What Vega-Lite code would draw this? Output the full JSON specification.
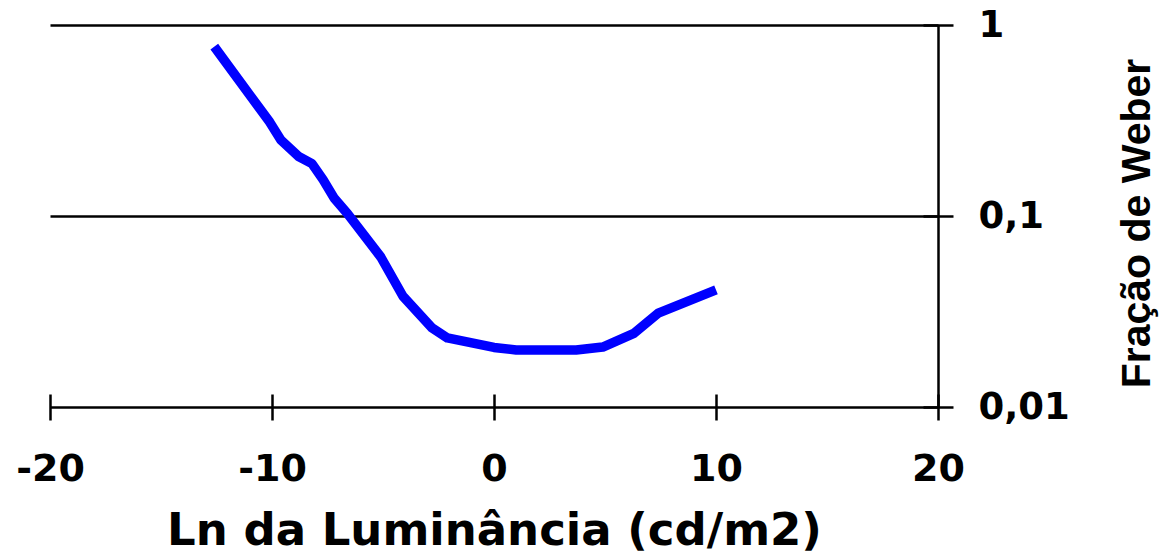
{
  "$schema": "https://vega.github.io/schema/vega-lite/v6.json",
  "autosize": "none",
  "width": 888,
  "height": 382,
  "padding": {"left": 50, "top": 25, "right": 227, "bottom": 148},
  "background": "white",
  "config": {"view": {"stroke": null}},
  "data": {"values": [
    {"lnL": -12.6, "weber": 0.77},
    {"lnL": -10.1, "weber": 0.31},
    {"lnL": -9.6, "weber": 0.25},
    {"lnL": -8.8, "weber": 0.205},
    {"lnL": -8.2, "weber": 0.188},
    {"lnL": -7.7, "weber": 0.155},
    {"lnL": -7.2, "weber": 0.124},
    {"lnL": -6.6, "weber": 0.103},
    {"lnL": -5.1, "weber": 0.061},
    {"lnL": -4.1, "weber": 0.038},
    {"lnL": -2.8, "weber": 0.026},
    {"lnL": -2.1, "weber": 0.023},
    {"lnL": 0, "weber": 0.0205},
    {"lnL": 1.0, "weber": 0.0199},
    {"lnL": 3.7, "weber": 0.0199},
    {"lnL": 4.9, "weber": 0.0206},
    {"lnL": 6.3, "weber": 0.0243},
    {"lnL": 7.4, "weber": 0.031},
    {"lnL": 10.0, "weber": 0.041}
  ]},
  "mark": {"type": "line", "color": "#0000ff", "strokeWidth": 9.5, "strokeCap": "butt", "strokeJoin": "round", "clip": false},
  "encoding": {
    "x": {
      "field": "lnL", "type": "quantitative",
      "scale": {"domain": [-20, 20], "nice": false, "zero": false},
      "axis": {
        "title": "Ln da Luminância (cd/m2)",
        "values": [-20, -10, 0, 10, 20],
        "labelExpr": "'' + datum.value",
        "orient": "bottom",
        "offset": -13,
        "domain": false,
        "ticks": true, "tickSize": 26, "tickWidth": 2.5, "tickColor": "black",
        "grid": true,
        "gridColor": "black", "gridWidth": 2.5,
        "gridOpacity": {"condition": {"test": "datum.value == 20", "value": 1}, "value": 0},
        "labelFont": "DejaVu Sans", "labelFontWeight": "bold", "labelFontSize": 38, "labelColor": "black",
        "labelPadding": 30, "labelFlush": false, "labelOverlap": false,
        "titleFont": "DejaVu Sans", "titleFontWeight": "bold", "titleFontSize": 45, "titleColor": "black",
        "titleBaseline": "alphabetic", "titleY": 150
      }
    },
    "y": {
      "field": "weber", "type": "quantitative",
      "scale": {"type": "log", "domain": [0.01, 1], "nice": false},
      "axis": {
        "title": "Fração de Weber",
        "orient": "right",
        "values": [0.01, 0.1, 1],
        "labelExpr": "replace('' + datum.value, '.', ',')",
        "offset": -15,
        "domain": false,
        "ticks": true, "tickSize": 30, "tickWidth": 2.5, "tickColor": "black",
        "grid": true, "gridColor": "black", "gridWidth": 2.5,
        "labelFont": "DejaVu Sans", "labelFontWeight": "bold", "labelFontSize": 37, "labelColor": "black",
        "labelPadding": 25, "labelAlign": "left", "labelBaseline": "middle", "labelFlush": false, "labelOverlap": false,
        "titleFont": "Liberation Sans", "titleFontWeight": "bold", "titleFontSize": 41, "titleColor": "black",
        "titleAngle": 270, "titleBaseline": "alphabetic", "titleAlign": "center",
        "titleX": 226, "titleY": 198
      }
    }
  }
}
